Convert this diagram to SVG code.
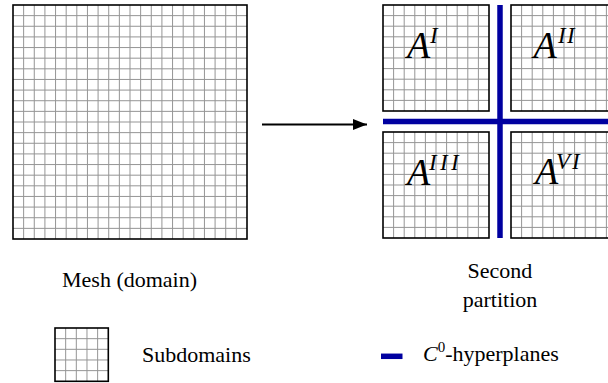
<svg xmlns="http://www.w3.org/2000/svg" xmlns:xlink="http://www.w3.org/1999/xlink" width="608" height="383" viewBox="0 0 608 383">
<style>
.grid{fill:none;stroke:#959595;stroke-width:1}
.border{fill:none;stroke:#000;stroke-width:1.6}
.bg{fill:#fff}
.hp{stroke:#0000a0;stroke-width:5.5;fill:none}
.lbl{font-family:"Liberation Serif","Times New Roman",serif;font-size:22px;fill:#000}
.A{font-family:"Liberation Serif","Times New Roman",serif;font-style:italic;font-size:38px;fill:#000}
.sup{font-family:"Liberation Serif","Times New Roman",serif;font-style:italic;font-size:23px;fill:#000}
</style>
<defs>
<path id="g10" d="M10.6 0V106M21.2 0V106M31.8 0V106M42.4 0V106M53 0V106M63.6 0V106M74.2 0V106M84.8 0V106M95.4 0V106M0 10.6H106M0 21.2H106M0 31.8H106M0 42.4H106M0 53H106M0 63.6H106M0 74.2H106M0 84.8H106M0 95.4H106"/>
<marker id="ah" markerWidth="14" markerHeight="11" refX="14" refY="5.5" orient="auto" markerUnits="userSpaceOnUse">
<polygon points="0,0 14,5.5 0,11" fill="#000"/>
</marker>
</defs>
<rect width="608" height="383" fill="#fff"/>

<g id="mesh" transform="translate(13,5)">
<rect class="bg" width="234" height="234"/>
<path class="grid" d="M10.64 0V234M21.27 0V234M31.91 0V234M42.55 0V234M53.18 0V234M63.82 0V234M74.45 0V234M85.09 0V234M95.73 0V234M106.36 0V234M117 0V234M127.64 0V234M138.27 0V234M148.91 0V234M159.55 0V234M170.18 0V234M180.82 0V234M191.45 0V234M202.09 0V234M212.73 0V234M223.36 0V234M0 10.64H234M0 21.27H234M0 31.91H234M0 42.55H234M0 53.18H234M0 63.82H234M0 74.45H234M0 85.09H234M0 95.73H234M0 106.36H234M0 117H234M0 127.64H234M0 138.27H234M0 148.91H234M0 159.55H234M0 170.18H234M0 180.82H234M0 191.45H234M0 202.09H234M0 212.73H234M0 223.36H234"/>
<rect class="border" width="234" height="234"/>
</g>

<g id="sub-I" transform="translate(383,5)">
<rect class="bg" width="106" height="106"/>
<use xlink:href="#g10" class="grid"/>
<rect class="border" width="106" height="106"/>
<text class="A" x="24" y="53">A</text>
<text class="sup" x="47" y="38">I</text>
</g>

<g id="sub-II" transform="translate(511,5)">
<rect class="bg" width="106" height="106"/>
<use xlink:href="#g10" class="grid"/>
<rect class="border" width="106" height="106"/>
<text class="A" x="22.5" y="53">A</text>
<text class="sup" x="47 56" y="38">II</text>
</g>

<g id="sub-III" transform="translate(383,132)">
<rect class="bg" width="106" height="106"/>
<use xlink:href="#g10" class="grid"/>
<rect class="border" width="106" height="106"/>
<text class="A" x="24" y="53">A</text>
<text class="sup" x="46 57 68" y="38">III</text>
</g>

<g id="sub-VI" transform="translate(511,132)">
<rect class="bg" width="106" height="106"/>
<use xlink:href="#g10" class="grid"/>
<rect class="border" width="106" height="106"/>
<text class="A" x="24" y="52">A</text>
<text class="sup" x="45 61" y="37">VI</text>
</g>

<g id="hyperplanes">
<line class="hp" x1="500" y1="5" x2="500" y2="238"/>
<line class="hp" x1="383" y1="121.5" x2="608" y2="121.5"/>
</g>

<g id="connectors">
<line x1="262" y1="124.5" x2="367" y2="124.5" stroke="#000" stroke-width="2.2" marker-end="url(#ah)"/>
</g>

<g id="labels">
<text class="lbl" x="62" y="287">Mesh (domain)</text>
<text class="lbl" x="500" y="278" text-anchor="middle">Second</text>
<text class="lbl" x="500" y="306.5" text-anchor="middle">partition</text>
</g>

<g id="legend-subdomains">
<g transform="translate(55,328)">
<rect class="bg" width="53.3" height="53.3"/>
<path class="grid" d="M10.66 0V53.3M21.32 0V53.3M31.98 0V53.3M42.64 0V53.3M0 10.66H53.3M0 21.32H53.3M0 31.98H53.3M0 42.64H53.3"/>
<rect class="border" width="53.3" height="53.3"/>
</g>
<text class="lbl" x="142" y="362">Subdomains</text>
</g>

<g id="legend-hyperplanes">
<line class="hp" x1="381" y1="356.3" x2="402.5" y2="356.3" stroke-width="4.5"/>
<text class="lbl" x="423" y="361"><tspan font-style="italic">C</tspan><tspan font-size="15" dy="-9">0</tspan><tspan dy="9">-hyperplanes</tspan></text>
</g>
</svg>
